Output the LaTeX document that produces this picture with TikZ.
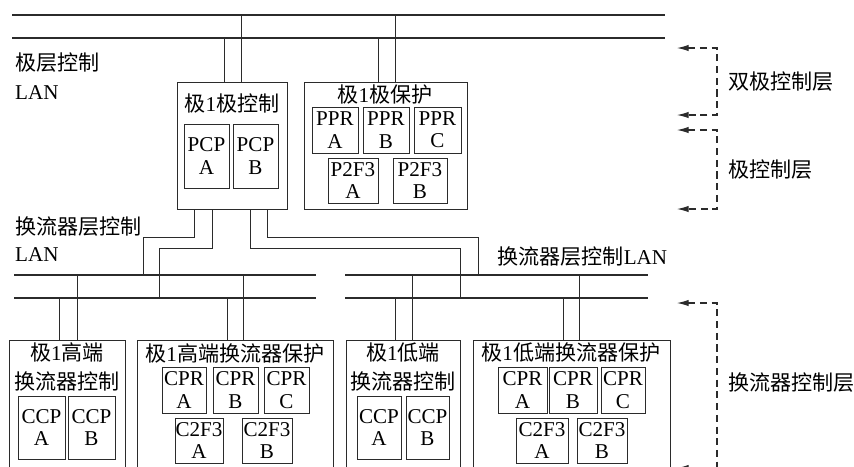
\documentclass[tikz,border=0pt]{standalone}
\usepackage{fontspec}
\setmainfont{Liberation Serif}
\newfontfamily\cjk{Noto Sans CJK SC}
\usetikzlibrary{arrows.meta, fit}
\newcommand{\zh}[1]{{\cjk #1}}
\newcommand{\fsz}{\fontsize{18}{19}\selectfont}
\definecolor{lineGray}{HTML}{2B2B2B}
\tikzset{
  sz/.style 2 args={minimum width=#1*0.03cm, minimum height=#2*0.03cm},
  cbox/.style={draw=lineGray, line width=0.8pt, inner sep=0pt, align=center, font=\fsz},
  obox/.style={draw=lineGray, line width=0.8pt, inner sep=0pt},
  ttl/.style={inner sep=0pt, align=center, font=\fsz},
  lbl/.style={anchor=west, inner sep=0pt, font=\fsz},
  bus/.style={lineGray, line width=1.4pt},
  link/.style={lineGray, line width=0.8pt},
  brk/.style={lineGray, line width=0.9pt, dash pattern=on 6pt off 4pt,
              {Latex[length=10pt,width=5.5pt]}-{Latex[length=10pt,width=5.5pt]}},
}
\begin{document}
\begin{tikzpicture}[x=0.03cm, y=-0.03cm]
  \useasboundingbox (0,0) rectangle (854,466);
  \clip (0,0) rectangle (854,466);

  % buses
  \coordinate (ta1) at (12,15);   \coordinate (ta2) at (665,15);
  \coordinate (tb1) at (12,38);   \coordinate (tb2) at (665,38);
  \coordinate (la1) at (14,275);  \coordinate (la2) at (316,275);
  \coordinate (lb1) at (14,298);  \coordinate (lb2) at (316,298);
  \coordinate (ra1) at (345,275); \coordinate (ra2) at (648,275);
  \coordinate (rb1) at (345,298); \coordinate (rb2) at (648,298);
  \draw[bus] (ta1) -- (ta2);
  \draw[bus] (tb1) -- (tb2);
  \draw[bus] (la1) -- (la2);
  \draw[bus] (lb1) -- (lb2);
  \draw[bus] (ra1) -- (ra2);
  \draw[bus] (rb1) -- (rb2);

  % outer boxes
  \node[obox, fit={(177,82) (287,209)}] (pc) {};
  \node[obox, fit={(304,82) (467,209)}] (pp) {};
  \node[obox, fit={(9,340) (125,480)}] (hc) {};
  \node[obox, fit={(137,340) (333,480)}] (hp) {};
  \node[obox, fit={(346,340) (460,480)}] (lc) {};
  \node[obox, fit={(473,340) (670,480)}] (lp) {};

  \node[ttl] (pcT) at (232,103) {\zh{极}1\zh{极控制}};
  \node[ttl] (ppT) at (385,95) {\zh{极}1\zh{极保护}};
  \node[ttl] (hcT) at (67,367) {\zh{极}1\zh{高端}\\[5pt]\zh{换流器控制}};
  \node[ttl] (hpT) at (235,353) {\zh{极}1\zh{高端换流器保护}};
  \node[ttl] (lcT) at (403,367) {\zh{极}1\zh{低端}\\[5pt]\zh{换流器控制}};
  \node[ttl] (lpT) at (571,353) {\zh{极}1\zh{低端换流器保护}};

  % inner boxes
  \node[cbox, sz={45}{64}] (pcA) at (206.5,156) {PCP\\A};
  \node[cbox, sz={45}{64}] (pcB) at (255.5,156) {PCP\\B};
  \node[cbox, sz={46}{46}] (ppA) at (335,130) {PPR\\A};
  \node[cbox, sz={46}{46}] (ppB) at (386,130) {PPR\\B};
  \node[cbox, sz={47}{46}] (ppC) at (437.5,130) {PPR\\C};
  \node[cbox, sz={50}{45}] (pfA) at (353,180.5) {P2F3\\A};
  \node[cbox, sz={54}{45}] (pfB) at (420,180.5) {P2F3\\B};

  \node[cbox, sz={47}{63}] (hcA) at (41.5,427.5) {CCP\\A};
  \node[cbox, sz={47}{63}] (hcB) at (91.5,427.5) {CCP\\B};
  \node[cbox, sz={44}{46}] (hpA) at (184,390) {CPR\\A};
  \node[cbox, sz={45}{46}] (hpB) at (235.5,390) {CPR\\B};
  \node[cbox, sz={45}{46}] (hpC) at (286.5,390) {CPR\\C};
  \node[cbox, sz={48}{45}] (hfA) at (199,440.5) {C2F3\\A};
  \node[cbox, sz={50}{45}] (hfB) at (267,440.5) {C2F3\\B};

  \node[cbox, sz={44}{63}] (lcA) at (379,427.5) {CCP\\A};
  \node[cbox, sz={43}{63}] (lcB) at (427.5,427.5) {CCP\\B};
  \node[cbox, sz={49}{46}] (lpA) at (522.5,390) {CPR\\A};
  \node[cbox, sz={48}{46}] (lpB) at (573,390) {CPR\\B};
  \node[cbox, sz={44}{46}] (lpC) at (623,390) {CPR\\C};
  \node[cbox, sz={52}{45}] (lfA) at (542,440.5) {C2F3\\A};
  \node[cbox, sz={50}{45}] (lfB) at (602,440.5) {C2F3\\B};

  % drops from buses
  \foreach \x/\b/\n in {224/tb1/pc, 241/ta1/pc, 378/tb1/pp, 395/ta1/pp,
                        59/lb1/hc, 77/la1/hc, 227/lb1/hp, 243/la1/hp,
                        395/rb1/lc, 412/ra1/lc, 563/rb1/lp, 579/ra1/lp}
    \draw[link] (\x,0 |- \n.north) -- (\x,0 |- \b);

  \draw[link] (194,0 |- pc.south) |- (143,237) -- (143,0 |- la1);
  \draw[link] (212,0 |- pc.south) |- (159,248) -- (159,0 |- lb1);
  \draw[link] (250,0 |- pc.south) |- (460,248) -- (460,0 |- rb1);
  \draw[link] (267,0 |- pc.south) |- (478,237) -- (478,0 |- ra1);

  % LAN labels
  \node[lbl] (lan1) at (15,63) {\zh{极层控制}};
  \node[lbl] (lan1b) at (15,93) {LAN};
  \node[lbl] (lan2) at (15,227) {\zh{换流器层控制}};
  \node[lbl] (lan2b) at (15,255) {LAN};
  \node[lbl] (lan3) at (497,257) {\zh{换流器层控制}LAN};

  % layers
  \coordinate (d1a) at (677,48);  \coordinate (d1b) at (677,115);
  \coordinate (d2a) at (677,130); \coordinate (d2b) at (677,209);
  \coordinate (d3a) at (677,303); \coordinate (d3b) at (677,468);
  \draw[brk] (d1a) -| (717,80) |- (d1b);
  \draw[brk] (d2a) -| (717,170) |- (d2b);
  \draw[brk] (d3a) -| (717,380) |- (d3b);
  \node[lbl] (lay1) at (728,82) {\zh{双极控制层}};
  \node[lbl] (lay2) at (728,170) {\zh{极控制层}};
  \node[lbl] (lay3) at (728,383) {\zh{换流器控制层}};
\end{tikzpicture}
\end{document}
